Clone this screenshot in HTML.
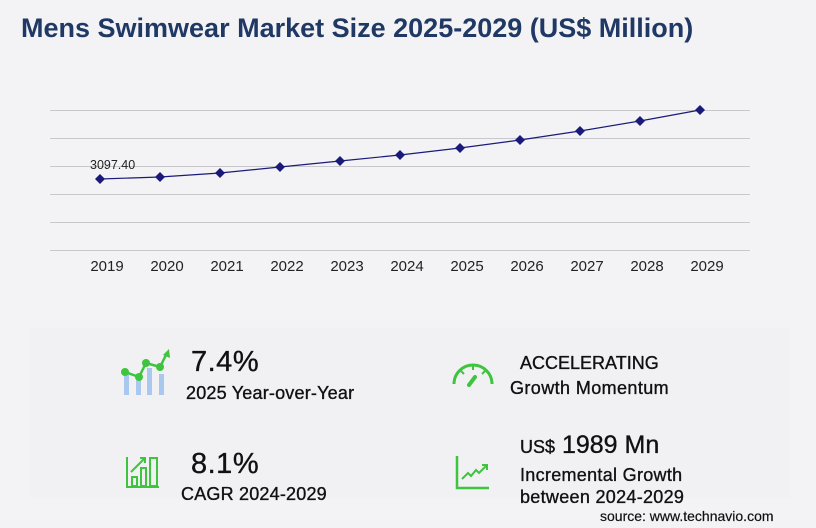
<!DOCTYPE html>
<html><head><style>
body{margin:0;width:816px;height:528px;background:#f3f3f5;font-family:"Liberation Sans",Arial,sans-serif;position:relative;overflow:hidden}
.t{position:absolute;white-space:nowrap;color:#111;-webkit-text-stroke:0.35px #111}
</style></head><body>
<div class="t" style="left:21px;top:13px;font-size:27px;font-weight:bold;color:#1f3864;-webkit-text-stroke:0;letter-spacing:0">Mens Swimwear Market Size 2025-2029 (US$ Million)</div>
<div style="position:absolute;left:30px;top:328px;width:760px;height:170px;background:#f1f1f3"></div>
<svg width="816" height="528" style="position:absolute;left:0;top:0">
<g stroke="#c8c8cc" stroke-width="1">
<line x1="50" x2="750" y1="110.5" y2="110.5"/><line x1="50" x2="750" y1="138.5" y2="138.5"/><line x1="50" x2="750" y1="166.5" y2="166.5"/><line x1="50" x2="750" y1="194.5" y2="194.5"/><line x1="50" x2="750" y1="222.5" y2="222.5"/><line x1="50" x2="750" y1="250.5" y2="250.5"/>
</g>
<polyline fill="none" stroke="#1a1a7a" stroke-width="1.2" points="100,179 160,177 220,173 280,167 340,161 400,155 460,148 520,140 580,131 640,121 700,110"/>
<g fill="#1a1a7a">
<path d="M100 174l5 5-5 5-5-5z"/><path d="M160 172l5 5-5 5-5-5z"/><path d="M220 168l5 5-5 5-5-5z"/><path d="M280 162l5 5-5 5-5-5z"/><path d="M340 156l5 5-5 5-5-5z"/><path d="M400 150l5 5-5 5-5-5z"/><path d="M460 143l5 5-5 5-5-5z"/><path d="M520 135l5 5-5 5-5-5z"/><path d="M580 126l5 5-5 5-5-5z"/><path d="M640 116l5 5-5 5-5-5z"/><path d="M700 105l5 5-5 5-5-5z"/>
</g>
<text x="90" y="169" font-size="12.5" fill="#222" font-family="Liberation Sans">3097.40</text>
<g font-size="15" fill="#222" font-family="Liberation Sans" text-anchor="middle">
<text x="107" y="271">2019</text><text x="167" y="271">2020</text><text x="227" y="271">2021</text><text x="287" y="271">2022</text><text x="347" y="271">2023</text><text x="407" y="271">2024</text><text x="467" y="271">2025</text><text x="527" y="271">2026</text><text x="587" y="271">2027</text><text x="647" y="271">2028</text><text x="707" y="271">2029</text>
</g>
<g fill="#a9c8f0"><rect x="124" y="374" width="5" height="21"/><rect x="136" y="380" width="5" height="15"/><rect x="147" y="368" width="5" height="27"/><rect x="159" y="374" width="5" height="21"/></g>
<polyline points="125,372 139,377 146,363 160,367 167,353" fill="none" stroke="#3ec43e" stroke-width="2.5"/>
<g fill="#3ec43e"><circle cx="125" cy="372" r="4"/><circle cx="139" cy="377" r="4"/><circle cx="146" cy="363" r="4"/><circle cx="160" cy="367" r="4"/><path d="M163 355l6-6 1 9z"/></g>
<g fill="none" stroke="#3ec43e" stroke-width="2">
<path d="M127 457v30h32"/><rect x="132" y="477" width="5" height="9"/><rect x="141" y="468" width="5" height="18"/><rect x="150" y="458" width="7" height="28"/><path d="M131 472l14-14m-5 0h5v5"/>
<path d="M454 384a19 19 0 0 1 38 0" stroke-width="3"/><path d="M475 377l-6 8" stroke-width="4" stroke-linecap="round"/>
<path d="M473 366v4M461 371l3 3M485 371l-3 3"/>
<path d="M457 456v32h32" stroke-width="2.5"/><path d="M462 479l6-6 3 3 5-6 3 3 8-8m-5 0h5v5" stroke-width="2"/>
</g>
</svg>
<div class="t" style="left:191px;top:346px;font-size:29px;letter-spacing:0.5px">7.4%</div>
<div class="t" style="left:186px;top:383px;font-size:18px;letter-spacing:0.2px">2025 Year-over-Year</div>
<div class="t" style="left:191px;top:448px;font-size:29px;letter-spacing:0.5px">8.1%</div>
<div class="t" style="left:181px;top:484px;font-size:18px;letter-spacing:0.2px">CAGR 2024-2029</div>
<div class="t" style="left:520px;top:353px;font-size:18px;">ACCELERATING</div>
<div class="t" style="left:510px;top:378px;font-size:18px;letter-spacing:0.4px">Growth Momentum</div>
<div class="t" style="left:520px;top:431px;font-size:25px;"><span style="font-size:18px">US$</span> 1989 Mn</div>
<div class="t" style="left:520px;top:465px;font-size:18px;letter-spacing:0.3px">Incremental Growth</div>
<div class="t" style="left:520px;top:487px;font-size:18px;letter-spacing:0.3px">between 2024-2029</div>
<div class="t" style="left:600px;top:508px;font-size:14px;-webkit-text-stroke:0.2px #111">source: www.technavio.com</div>
</body></html>
